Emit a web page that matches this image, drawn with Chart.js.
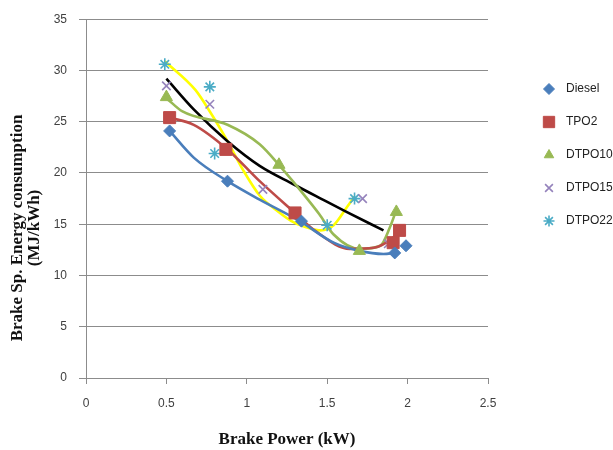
<!DOCTYPE html>
<html>
<head>
<meta charset="utf-8">
<title>Brake Sp. Energy consumption</title>
<script src="https://cdn.jsdelivr.net/npm/chart.js@4.4.1/dist/chart.umd.min.js"></script>
<style>
    html, body { margin: 0; padding: 0; background: #fff; }
    #wrap { width: 613px; height: 450px; position: relative; }
</style>
</head>
<body>
<div id="wrap"><canvas id="bsecChart"></canvas></div>
<script>
// Measured points (Brake power kW / BSEC MJ/kWh)
const dieselX = [0.52, 0.88, 1.34, 1.92, 1.99];
const dieselY = [24.1, 19.2, 15.3, 12.2, 12.9];
const tpo2X = [0.52, 0.87, 1.30, 1.91, 1.95];
const tpo2Y = [25.4, 22.3, 16.1, 13.2, 14.4];
const dtpo10X = [0.50, 1.20, 1.70, 1.93];
const dtpo10Y = [27.4, 20.8, 12.4, 16.2];
const dtpo15X = [0.50, 0.77, 1.10, 1.72, 1.88];
const dtpo15Y = [28.5, 26.7, 18.4, 17.5, 13.1];
const dtpo22X = [0.49, 0.77, 0.80, 1.50, 1.67];
const dtpo22Y = [30.6, 28.4, 21.9, 14.9, 17.5];

// Curves
const dieselCurveX = [0.52, 0.67, 0.88, 1.08, 1.33, 1.54, 1.70, 1.85, 1.92];
const dieselCurveY = [24.1, 21.5, 19.2, 17.4, 15.3, 13.2, 12.4, 12.1, 12.2];
const tpo2CurveX = [0.52, 0.67, 0.88, 1.08, 1.30, 1.43, 1.64, 1.79, 1.91, 1.95];
const tpo2CurveY = [25.4, 24.7, 22.3, 19.2, 16.1, 14.3, 12.6, 12.7, 13.7, 14.4];
const dtpo10CurveX = [0.50, 0.60, 0.88, 1.08, 1.21, 1.37, 1.45, 1.54, 1.70, 1.83, 1.89, 1.93];
const dtpo10CurveY = [27.3, 26.0, 24.7, 22.8, 20.6, 17.6, 16.0, 14.0, 12.6, 12.9, 14.7, 16.4];
const blackCurveX = [0.50, 0.67, 0.88, 1.08, 1.29, 1.46, 1.62, 1.85];
const blackCurveY = [29.2, 26.2, 23.1, 20.7, 18.9, 17.5, 16.2, 14.4];
const yellowCurveX = [0.49, 0.68, 0.77, 0.88, 0.98, 1.08, 1.19, 1.29, 1.39, 1.46, 1.54, 1.62, 1.67];
const yellowCurveY = [30.9, 28.1, 26.0, 23.1, 20.2, 17.8, 16.3, 15.2, 14.6, 14.4, 14.9, 16.6, 17.7];

const xTicks = [0, 0.5, 1, 1.5, 2, 2.5];
const yTicks = [0, 5, 10, 15, 20, 25, 30, 35];

function pts(xs, ys) {
    return xs.map((x, i) => ({ x: x, y: ys[i] }));
}

function markerSet(label, xs, ys, color, style, radius) {
    return {
        label: label,
        data: pts(xs, ys),
        showLine: false,
        pointStyle: style,
        pointRadius: radius,
        pointHoverRadius: radius,
        pointBackgroundColor: color,
        pointBorderColor: color,
        pointBorderWidth: (style === 'crossRot' || style === 'star') ? 1.6 : 1,
        order: 0,
        clip: false,
        isMarker: true
    };
}

function curveSet(xs, ys, color) {
    return {
        label: '',
        data: pts(xs, ys),
        showLine: true,
        borderColor: color,
        borderWidth: 2.6,
        pointRadius: 0,
        cubicInterpolationMode: 'monotone',
        order: 1,
        clip: false
    };
}

const datasets = [
    markerSet('Diesel', dieselX, dieselY, '#4A7EBB', 'rectRot', 6),
    markerSet('TPO2', tpo2X, tpo2Y, '#BE4B48', 'rect', 8.5),
    markerSet('DTPO10', dtpo10X, dtpo10Y, '#98B954', 'triangle', 7),
    markerSet('DTPO15', dtpo15X, dtpo15Y, '#9583BC', 'crossRot', 6),
    markerSet('DTPO22', dtpo22X, dtpo22Y, '#4BACC6', 'star', 6),
    curveSet(dieselCurveX, dieselCurveY, '#4A7EBB'),
    curveSet(tpo2CurveX, tpo2CurveY, '#BE4B48'),
    curveSet(dtpo10CurveX, dtpo10CurveY, '#98B954'),
    curveSet(blackCurveX, blackCurveY, '#000000'),
    curveSet(yellowCurveX, yellowCurveY, '#FFFF00')
];

// Y title (centred lower than the plot, like the original) and the legend
const sidePlugin = {
    id: 'sideBits',
    afterDraw(chart) {
        const ctx = chart.ctx;
        ctx.save();
        ctx.fillStyle = '#111';
        ctx.font = 'bold 17px "Liberation Serif"';
        ctx.textAlign = 'center';
        ctx.textBaseline = 'middle';
        ctx.translate(18, 228);
        ctx.rotate(-Math.PI / 2);
        ctx.fillText('Brake Sp. Energy consumption', 0, 0);
        ctx.fillText('(MJ/kWh)', 0, 17);
        ctx.restore();

        ctx.save();
        ctx.font = '12px "Liberation Sans"';
        ctx.textAlign = 'left';
        ctx.textBaseline = 'middle';
        let y = 89;
        chart.data.datasets.filter(d => d.isMarker).forEach(d => {
            ctx.fillStyle = d.pointBackgroundColor;
            ctx.strokeStyle = d.pointBorderColor;
            ctx.lineWidth = d.pointBorderWidth;
            Chart.helpers.drawPoint(ctx, {
                pointStyle: d.pointStyle,
                radius: d.pointStyle === 'rect' ? 8 : 5.5,
                borderWidth: d.pointBorderWidth,
                rotation: 0
            }, 549, y);
            ctx.fillStyle = '#222';
            ctx.fillText(d.label, 566, y);
            y += 33;
        });
        ctx.restore();
    }
};

document.addEventListener('DOMContentLoaded', () => {
    const ctx = document.getElementById('bsecChart').getContext('2d');
    new Chart(ctx, {
        type: 'scatter',
        data: { datasets: datasets },
        options: {
            responsive: true,
            maintainAspectRatio: false,
            animation: false,
            layout: { padding: { top: 15, right: 125, bottom: 0, left: 0 } },
            plugins: {
                legend: { display: false },
                tooltip: { enabled: false }
            },
            scales: {
                x: {
                    type: 'linear',
                    min: 0,
                    max: 2.5,
                    afterFit: s => { s.height = 72; },
                    afterBuildTicks: s => { s.ticks = xTicks.map(v => ({ value: v })); },
                    grid: { drawOnChartArea: false, drawTicks: true, tickLength: 6, color: '#8c8c8c' },
                    border: { display: true, color: '#8c8c8c', width: 1 },
                    ticks: {
                        color: '#404040',
                        font: { family: 'Liberation Sans', size: 12 },
                        padding: 12,
                        maxRotation: 0,
                        callback: v => String(v)
                    },
                    title: {
                        display: true,
                        text: 'Brake Power (kW)',
                        color: '#111',
                        font: { family: 'Liberation Serif', size: 17, weight: 'bold', lineHeight: 1.2 },
                        padding: { top: 0, bottom: 0 }
                    }
                },
                y: {
                    type: 'linear',
                    min: 0,
                    max: 35,
                    afterFit: s => { s.width = 86; },
                    afterBuildTicks: s => { s.ticks = yTicks.map(v => ({ value: v })); },
                    grid: { color: '#8c8c8c', tickLength: 7, lineWidth: 1 },
                    border: { display: true, color: '#8c8c8c', width: 1 },
                    ticks: {
                        color: '#404040',
                        font: { family: 'Liberation Sans', size: 12 },
                        padding: 12,
                        callback: v => String(v)
                    }
                }
            }
        },
        plugins: [sidePlugin]
    });
});
</script>
</body>
</html>
